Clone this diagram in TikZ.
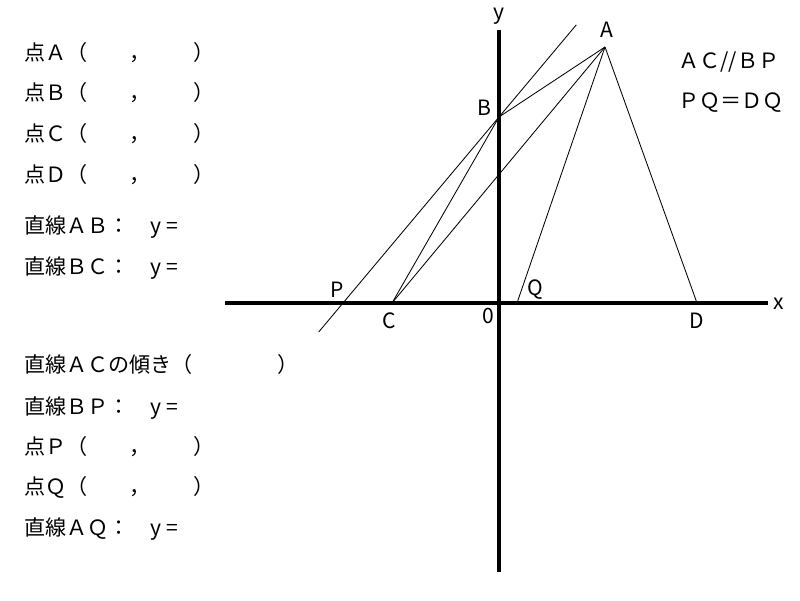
\documentclass[tikz,border=0pt]{standalone}
\usepackage{fontspec}
\setmainfont{Noto Sans CJK JP}
\usetikzlibrary{calc}

\begin{document}
\begin{tikzpicture}[x=0.025cm, y=-0.025cm,
    testo/.style={inner sep=0pt, font=\fontsize{15pt}{18pt}\selectfont},
    asse/.style={line width=2.3pt},
    retta/.style={line width=0.6pt}]
  %tikz  Triangolo, assi, punti
    \useasboundingbox (0,0) rectangle (800,600);
    \coordinate (A) at (605,47);
    \coordinate (B) at (499,117);
    \coordinate (C) at (392,303);
    \coordinate (D) at (697,303);
    \coordinate (Q) at (517,303);
    \coordinate (P) at (343,303);
    \coordinate (xs) at (225,303);
    \coordinate (xe) at (768,303);
    \coordinate (ys) at (499,572);
    \coordinate (ye) at (499,30);
    \draw[asse] (xs) -- (xe);
    \draw[asse] (ys) -- (ye);
    \draw[retta] ($(P)!-0.156!(B)$) -- ($(P)!1.495!(B)$);
    \foreach \q in {B,C,Q,D}{
        \draw[retta] (A) -- (\q);
    }
    \draw[retta] (B) -- (C);
    \foreach \n/\t/\x/\y in {y/y/499/19, x/x/779/309, A/A/607/37, B/B/484/115,
        P/P/337/297, Q/Q/535/295, C/C/389/328, O/0/488/323, D/D/697/328}{
        \node[testo, anchor=base] (l\n) at (\x,\y) {\t};
    }
    \node[testo, anchor=base west] (par) at (678,68) {ＡＣ//ＢＰ};
    \node[testo, anchor=base west] (ugu) at (678,108) {ＰＱ＝ＤＱ};
    \foreach \n/\t/\y in {a/Ａ/60, b/Ｂ/100, c/Ｃ/141, d/Ｄ/182, p/Ｐ/454, q/Ｑ/494}{
        \node[testo, anchor=base west] (pt\n) at (24,\y) {点\t（　　，　　）};
    }
    \foreach \n/\t/\y in {ab/ＡＢ/233, bc/ＢＣ/274, bp/ＢＰ/414, aq/ＡＱ/535}{
        \node[testo, anchor=base west] (rt\n) at (24,\y) {直線\t：　y =};
    }
    \node[testo, anchor=base west] (incl) at (24,372) {直線ＡＣの傾き（　　　　）};
\end{tikzpicture}
\end{document}
